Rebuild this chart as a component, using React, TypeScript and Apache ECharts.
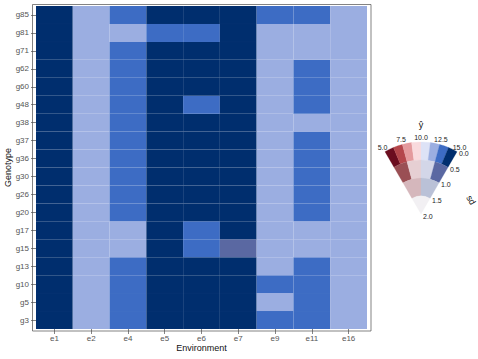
import React, { useEffect, useRef } from "react";
import * as echarts from "echarts";

// ---- data ----
const environments = ["e1", "e2", "e4", "e5", "e6", "e7", "e9", "e11", "e16"];
// bottom to top, as on the y axis
const genotypes = ["g3", "g5", "g10", "g13", "g15", "g17", "g20", "g26", "g30", "g36", "g37", "g38", "g48", "g60", "g62", "g71", "g81", "g85"];

// predicted value (y-hat) per genotype, one value per environment
const g85 = [14.8, 11.8, 13.1, 14.6, 14.4, 14.7, 13.0, 13.2, 12.1];
const g81 = [14.8, 11.8, 12.0, 13.2, 13.0, 14.7, 11.9, 12.0, 12.1];
const g71 = [14.8, 11.8, 13.1, 14.6, 14.4, 14.7, 11.9, 12.0, 12.1];
const g62 = [14.8, 11.8, 13.1, 14.6, 14.4, 14.7, 11.9, 13.2, 12.1];
const g60 = [14.8, 11.8, 13.1, 14.6, 14.4, 14.7, 11.9, 13.2, 12.1];
const g48 = [14.8, 11.8, 13.1, 14.6, 13.0, 14.7, 11.9, 13.2, 12.1];
const g38 = [14.8, 11.8, 13.1, 14.6, 14.4, 14.7, 11.9, 12.0, 12.1];
const g37 = [14.8, 11.8, 13.1, 14.6, 14.4, 14.7, 11.9, 13.2, 12.1];
const g36 = [14.8, 11.8, 13.1, 14.6, 14.4, 14.7, 11.9, 13.2, 12.1];
const g30 = [14.8, 11.8, 13.1, 14.6, 14.4, 14.7, 11.9, 13.2, 12.1];
const g26 = [14.8, 11.8, 13.1, 14.6, 14.4, 14.7, 11.9, 13.2, 12.1];
const g20 = [14.8, 11.8, 13.1, 14.6, 14.4, 14.7, 11.9, 13.2, 12.1];
const g17 = [14.8, 11.8, 12.0, 14.6, 13.0, 14.7, 11.9, 12.0, 12.1];
const g15 = [14.8, 11.8, 12.0, 14.6, 13.0, 14.1, 11.9, 12.0, 12.1];
const g13 = [14.8, 11.8, 13.1, 14.6, 14.4, 14.7, 11.9, 13.2, 12.1];
const g10 = [14.8, 11.8, 13.1, 14.6, 14.4, 14.7, 13.0, 13.2, 12.1];
const g5 = [14.8, 11.8, 13.1, 14.6, 14.4, 14.7, 11.9, 13.2, 12.1];
const g3 = [14.8, 11.8, 13.1, 14.6, 14.4, 14.7, 13.0, 13.2, 12.1];
const yhatRows = [g3, g5, g10, g13, g15, g17, g20, g26, g30, g36, g37, g38, g48, g60, g62, g71, g81, g85];

// standard deviation of the prediction
const sdTypical = [0.2, 0.2, 0.2, 0.2, 0.2, 0.2, 0.2, 0.2, 0.2];
const sdG15 = [0.2, 0.2, 0.2, 0.2, 0.2, 0.7, 0.2, 0.2, 0.2];

// legend scales
const valueBreaks = [5.0, 7.5, 10.0, 12.5, 15.0];
const sdBreaks = [0.0, 0.5, 1.0, 1.5, 2.0];

// value-suppressing palette, outer ring (low sd) to inner ring (high sd)
const ringColors0 = ["#6B0D1F", "#B4464B", "#E49A9D", "#F9DADD", "#DDE2F6", "#9BAEE1", "#3D6CC4", "#002E6E"];
const ringColors1 = ["#9A4F54", "#E6CFD3", "#D3D6E8", "#5A68A2"];
const ringColors2 = ["#D5B7BC", "#BAC1D7"];
const ringColors3 = ["#F2F0F3"];
const legendRings = [ringColors0, ringColors1, ringColors2, ringColors3];

function vsupColor(v: number, s: number): string {
  const vMin = valueBreaks[0];
  const vMax = valueBreaks[valueBreaks.length - 1];
  const sStep = sdBreaks[1] - sdBreaks[0];
  const level = Math.max(0, Math.min(legendRings.length - 1, Math.floor(s / sStep)));
  const ring = legendRings[level];
  const t = (v - vMin) / (vMax - vMin);
  const idx = Math.max(0, Math.min(ring.length - 1, Math.floor(t * ring.length)));
  return ring[idx];
}

const FONT = "Liberation Sans, Arial, Helvetica, sans-serif";

export default function App() {
  const ref = useRef<HTMLDivElement>(null);

  useEffect(() => {
    if (!ref.current) return;
    const chart = echarts.init(ref.current, undefined, { renderer: "svg" });

    const data: any[] = [];
    yhatRows.forEach((row, yi) => {
      const sdRow = genotypes[yi] === "g15" ? sdG15 : sdTypical;
      row.forEach((v, xi) => {
        data.push([xi, yi, v, sdRow[xi]]);
      });
    });

    // fan legend
    const cx = 421;
    const cy = 214;
    const R = 72;
    const a0 = -Math.PI * 2 / 3;
    const a1 = -Math.PI / 3;
    const sdMax = sdBreaks[sdBreaks.length - 1];
    const vMin = valueBreaks[0];
    const vMax = valueBreaks[valueBreaks.length - 1];
    const legendEls: any[] = [];
    legendRings.forEach((ring, level) => {
      const rOut = R * (1 - sdBreaks[level] / sdMax);
      const rIn = R * (1 - sdBreaks[level + 1] / sdMax);
      ring.forEach((c, i) => {
        const sa = a0 + ((a1 - a0) * i) / ring.length;
        const ea = a0 + ((a1 - a0) * (i + 1)) / ring.length;
        legendEls.push({
          type: "sector",
          shape: { cx, cy, r: rOut, r0: rIn, startAngle: sa, endAngle: ea, clockwise: true },
          style: { fill: c, stroke: c, lineWidth: 0.3 },
          silent: true,
        });
      });
    });
    valueBreaks.forEach((v) => {
      const a = a0 + ((a1 - a0) * (v - vMin)) / (vMax - vMin);
      const r = 77;
      legendEls.push({
        type: "text",
        x: cx + r * Math.cos(a),
        y: cy + r * Math.sin(a),
        style: {
          text: v.toFixed(1),
          fill: "#222",
          font: `7px ${FONT}`,
          textAlign: "center",
          textVerticalAlign: "middle",
        },
      });
    });
    sdBreaks.forEach((s) => {
      const r = R * (1 - s / sdMax);
      legendEls.push({
        type: "text",
        x: cx + r * Math.cos(a1) + 2,
        y: cy + r * Math.sin(a1) + 2,
        style: {
          text: s.toFixed(1),
          fill: "#222",
          font: `7px ${FONT}`,
          textAlign: "left",
          textVerticalAlign: "middle",
        },
      });
    });
    legendEls.push({
      type: "text",
      x: cx,
      y: 125,
      style: { text: "ŷ", fill: "#111", font: `9px ${FONT}`, textAlign: "center", textVerticalAlign: "middle" },
    });
    legendEls.push({
      type: "text",
      x: 471,
      y: 200,
      rotation: -Math.PI / 3,
      style: { text: "sd", fill: "#111", font: `9px ${FONT}`, textAlign: "center", textVerticalAlign: "middle" },
    });

    const option: any = {
      animation: false,
      backgroundColor: "#ffffff",
      grid: { left: 36, top: 6, width: 331, height: 323, containLabel: false },
      xAxis: {
        type: "category",
        data: environments,
        axisLine: { show: false },
        axisTick: { show: true, alignWithLabel: true, length: 5, lineStyle: { color: "#333", width: 0.6 } },
        axisLabel: { color: "#555", fontSize: 8, fontFamily: FONT, margin: 5 },
        splitLine: { show: false },
      },
      yAxis: {
        type: "category",
        data: genotypes,
        axisLine: { show: false },
        axisTick: { show: true, alignWithLabel: true, length: 5, lineStyle: { color: "#333", width: 0.6 } },
        axisLabel: { color: "#555", fontSize: 8, fontFamily: FONT, margin: 7 },
        splitLine: { show: false },
      },
      series: [
        {
          type: "custom",
          data,
          encode: { x: 0, y: 1 },
          renderItem: (params: any, api: any) => {
            const xi = api.value(0);
            const yi = api.value(1);
            const v = api.value(2);
            const s = api.value(3);
            const c = api.coord([xi, yi]);
            const size = api.size([1, 1]);
            return {
              type: "rect",
              shape: { x: c[0] - size[0] / 2, y: c[1] - size[1] / 2, width: size[0], height: size[1] },
              style: { fill: vsupColor(v, s), stroke: "rgba(255,255,255,0.035)", lineWidth: 0.5 },
            };
          },
          silent: true,
        },
      ],
      graphic: [
        {
          type: "rect",
          shape: { x: 32.5, y: 4.5, width: 338.5, height: 326.5 },
          style: { fill: "none", stroke: "#4d4d4d", lineWidth: 0.7 },
          silent: true,
          z: 10,
        },
        {
          type: "text",
          x: 201.5,
          y: 348,
          style: { text: "Environment", fill: "#111", font: `9px ${FONT}`, textAlign: "center", textVerticalAlign: "middle" },
        },
        {
          type: "text",
          x: 8,
          y: 167.5,
          rotation: Math.PI / 2,
          style: { text: "Genotype", fill: "#111", font: `9px ${FONT}`, textAlign: "center", textVerticalAlign: "middle" },
        },
        ...legendEls,
      ],
    };
    chart.setOption(option);
    return () => chart.dispose();
  }, []);

  return (
    <div
      ref={ref}
      style={{ width: 478, height: 359, position: "absolute", left: 0, top: 0 }}
    />
  );
}
